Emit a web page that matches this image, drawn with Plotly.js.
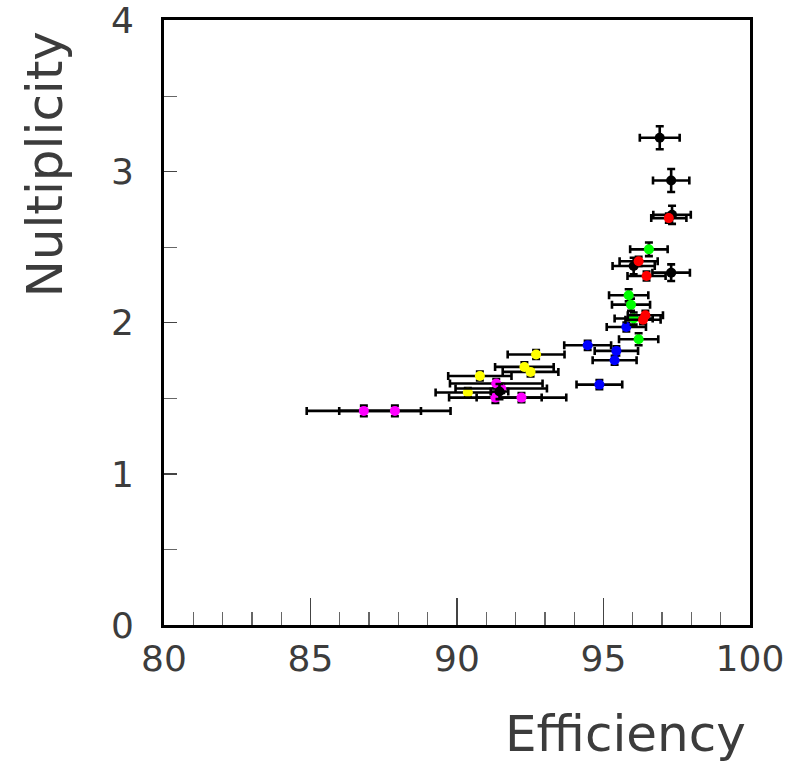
<!DOCTYPE html>
<html>
<head>
<meta charset="utf-8">
<script src="https://cdn.plot.ly/plotly-3.0.1.min.js"></script>
<style>html,body{margin:0;padding:0;background:#fff;}#chart{width:789px;height:762px;}</style>
</head>
<body>
<div id="chart"></div>
<script>
// Efficiency (x), Multiplicity (y), errors
const blackX = [96.92, 97.31, 97.34, 96.03, 97.31, 91.45];
const blackY = [3.225, 2.942, 2.715, 2.376, 2.332, 1.545];
const blackXErr = [0.68, 0.62, 0.64, 0.72, 0.64, 0.3];
const blackYErr = [0.076, 0.076, 0.06, 0.055, 0.055, 0.05];

const redX = [97.23, 96.20, 96.47, 96.43, 96.35];
const redY = [2.693, 2.407, 2.31, 2.05, 2.02];
const redXErr = [0.6, 0.65, 0.65, 0.6, 0.6];
const redYErr = [0.03, 0.03, 0.03, 0.03, 0.03];

const greenX = [96.55, 95.86, 95.94, 96.03, 96.20];
const greenY = [2.486, 2.182, 2.12, 2.028, 1.891];
const greenXErr = [0.64, 0.67, 0.65, 0.65, 0.67];
const greenYErr = [0.045, 0.04, 0.04, 0.04, 0.04];

const blueX = [95.78, 94.46, 95.44, 95.38, 94.86];
const blueY = [1.972, 1.851, 1.814, 1.752, 1.591];
const blueXErr = [0.67, 0.8, 0.74, 0.75, 0.78];
const blueYErr = [0.03, 0.03, 0.03, 0.03, 0.03];

const yellowX = [92.70, 92.30, 92.51, 90.78, 90.37];
const yellowY = [1.79, 1.708, 1.675, 1.648, 1.539];
const yellowXErr = [0.97, 1.0, 0.95, 1.08, 1.1];
const yellowYErr = [0.03, 0.03, 0.03, 0.03, 0.03];

const magentaX = [91.34, 91.51, 91.31, 92.20, 86.82, 87.88];
const magentaY = [1.598, 1.565, 1.505, 1.505, 1.417, 1.417];
const magentaXErr = [1.58, 1.56, 1.58, 1.53, 1.95, 1.9];
const magentaYErr = [0.03, 0.03, 0.035, 0.03, 0.035, 0.035];

const xTickVals = [80, 85, 90, 95, 100];
const yTickVals = [0, 1, 2, 3, 4];

function series(x, y, ex, ey, color) {
  return {
    type: 'scatter', mode: 'markers', x: x, y: y,
    marker: {color: color, size: 10, line: {width: 0}},
    error_x: {type: 'data', array: ex, visible: true, color: '#000', thickness: 2.6, width: 4},
    error_y: {type: 'data', array: ey, visible: true, color: '#000', thickness: 2.6, width: 4},
    showlegend: false, hoverinfo: 'x+y'
  };
}

const data = [
  series(yellowX, yellowY, yellowXErr, yellowYErr, '#ffff00'),
  series(magentaX, magentaY, magentaXErr, magentaYErr, '#ff00ff'),
  series(blueX, blueY, blueXErr, blueYErr, '#0000ff'),
  series(greenX, greenY, greenXErr, greenYErr, '#00ff00'),
  series(blackX, blackY, blackXErr, blackYErr, '#000000'),
  series(redX, redY, redXErr, redYErr, '#ff0000')
];

const txtColor = '#3c3c3c';
const fam = 'DejaVu Sans, sans-serif';

const layout = {
  width: 789, height: 762,
  margin: {l: 164, r: 39, t: 20, b: 137, pad: 0},
  paper_bgcolor: '#fff', plot_bgcolor: '#fff',
  font: {family: fam, color: txtColor, size: 36},
  xaxis: {
    range: [79.999, 100.001], tickmode: 'array', tickvals: xTickVals,
    ticks: 'inside', ticklen: 27, tickwidth: 1.3, tickcolor: '#444',
    minor: {dtick: 1, tick0: 80, ticks: 'inside', ticklen: 13, tickwidth: 1.3, tickcolor: '#666'},
    showgrid: false, zeroline: false,
    showline: true, linecolor: '#000', linewidth: 3, mirror: true,
    tickfont: {family: fam, size: 36, color: txtColor},
    ticklabelstandoff: 0, ticklabeloverflow: 'allow'
  },
  yaxis: {
    range: [0, 4.004], tickmode: 'array', tickvals: yTickVals,
    ticks: 'inside', ticklen: 13, tickwidth: 1.3, tickcolor: '#444',
    minor: {dtick: 0.5, tick0: 0, ticks: 'inside', ticklen: 13, tickwidth: 1.3, tickcolor: '#666'},
    showgrid: false, zeroline: false,
    showline: true, linecolor: '#000', linewidth: 3, mirror: true,
    tickfont: {family: fam, size: 36, color: txtColor},
    ticklabelstandoff: 20, ticklabeloverflow: 'allow'
  },
  annotations: [
    {text: 'Efficiency', xref: 'paper', yref: 'paper', x: 0.996, y: -0.18,
     xanchor: 'right', yanchor: 'middle', showarrow: false,
     font: {family: fam, size: 50, color: txtColor}},
    {text: 'Nultiplicity', xref: 'paper', yref: 'paper', x: -0.203, y: 0.985,
     xanchor: 'center', yanchor: 'top', textangle: -90, showarrow: false,
     font: {family: fam, size: 50, color: txtColor}}
  ]
};

Plotly.newPlot('chart', data, layout, {displayModeBar: false, staticPlot: true});
</script>
</body>
</html>
